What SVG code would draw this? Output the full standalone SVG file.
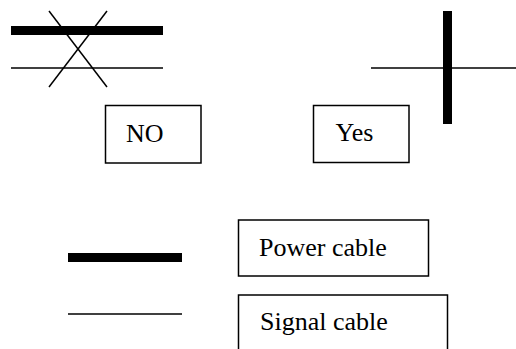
<svg xmlns="http://www.w3.org/2000/svg" width="516" height="349" viewBox="0 0 516 349">
<style>
.thin{stroke:#000;stroke-width:1.5;fill:none}
.thick{stroke:#000;stroke-width:9;fill:none}
.box{stroke:#000;stroke-width:1.5;fill:#fff}
.lbl{font-family:'Liberation Serif','Times New Roman',serif;font-size:26px;fill:#000}
</style>
<rect width="516" height="349" fill="#fff"/>
<g id="connectors">
<line class="thick" x1="11" y1="30.5" x2="163" y2="30.5"/>
<line class="thin" x1="11" y1="68" x2="163" y2="68"/>
<line class="thin" x1="49" y1="11" x2="107" y2="87"/>
<line class="thin" x1="107" y1="11" x2="49" y2="87"/>
<line class="thin" x1="371" y1="68" x2="516" y2="68"/>
<line class="thick" x1="447.5" y1="11" x2="447.5" y2="124"/>
<line class="thick" x1="68" y1="257.5" x2="182" y2="257.5"/>
<line class="thin" x1="68" y1="314" x2="182" y2="314"/>
</g>
<g id="no">
<rect class="box" x="105.5" y="105.5" width="95.5" height="57.5"/>
<text class="lbl" x="126" y="141.5">NO</text>
</g>
<g id="yes">
<rect class="box" x="313.5" y="105.5" width="95.5" height="57"/>
<text class="lbl" x="335.5" y="141">Yes</text>
</g>
<g id="power">
<rect class="box" x="238.5" y="220" width="190" height="56"/>
<text class="lbl" x="259" y="256">Power cable</text>
</g>
<g id="signal">
<rect class="box" x="238.5" y="295" width="209" height="60"/>
<text class="lbl" x="260" y="330">Signal cable</text>
</g>
</svg>
